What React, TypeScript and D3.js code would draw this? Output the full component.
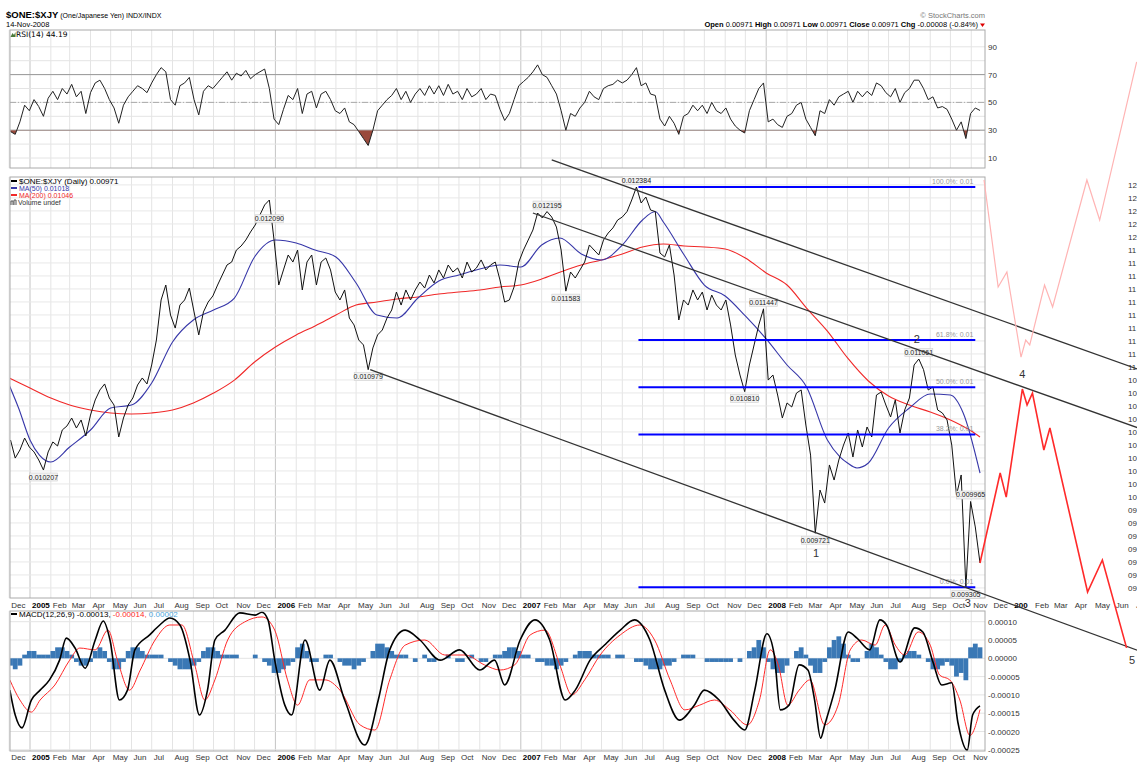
import React from 'react';
import * as d3 from 'd3';

const W = 1137;
const H = 763;
const FONT = 'Liberation Sans, Arial, sans-serif';
const parse = d3.timeParse('%Y-%m-%d');

// weekly samples (Fridays) starting here, used by close, RSI and MACD histogram
const weekStart = '2004-12-03';

// close, x 100000, one value per week
const closeWeekly: number[] = [
  1043.8, 1029.9, 1036.1, 1045.3, 1038.4, 1034.6, 1028.4, 1020.7, 1034.6, 1042.3,
  1039.2, 1051.5, 1054.6, 1060.7, 1053.0, 1059.2, 1046.9, 1063.0, 1074.6, 1082.3,
  1086.9, 1076.1, 1070.7, 1046.1, 1060.7, 1070.7, 1076.1, 1086.1, 1091.5, 1086.9,
  1101.5, 1120.7, 1151.5, 1163.0, 1139.9, 1129.9, 1147.6, 1151.5, 1160.7, 1142.3,
  1124.6, 1142.3, 1149.9, 1154.6, 1163.0, 1170.7, 1178.4, 1180.7, 1189.9, 1193.0,
  1197.6, 1203.8, 1209.2, 1216.9, 1224.6, 1228.4, 1197.6, 1163.0, 1174.6, 1186.1,
  1180.7, 1189.9, 1159.2, 1180.7, 1186.1, 1163.0, 1180.7, 1183.8, 1174.6, 1157.6,
  1151.5, 1159.2, 1137.6, 1132.3, 1120.7, 1116.9, 1097.9, 1114.6, 1124.6, 1128.4,
  1137.6, 1143.8, 1157.6, 1147.6, 1159.2, 1151.5, 1159.2, 1165.3, 1160.7, 1170.7,
  1164.6, 1174.6, 1168.4, 1178.4, 1173.0, 1176.1, 1168.4, 1180.7, 1173.0, 1176.1,
  1182.3, 1174.6, 1178.4, 1180.7, 1166.9, 1149.9, 1151.5, 1161.5, 1180.7, 1189.9,
  1197.6, 1205.3, 1218.4, 1214.6, 1219.5, 1215.3, 1207.6, 1189.9, 1158.3, 1173.0,
  1168.4, 1174.6, 1180.7, 1193.8, 1189.9, 1186.1, 1197.6, 1203.0, 1206.9, 1213.0,
  1215.3, 1219.5, 1228.4, 1238.4, 1226.1, 1230.7, 1220.7, 1219.5, 1187.6, 1184.6,
  1193.8, 1170.7, 1136.1, 1151.5, 1147.6, 1159.2, 1151.5, 1157.6, 1143.8, 1155.3,
  1147.6, 1143.8, 1151.5, 1132.3, 1109.2, 1093.8, 1081.0, 1101.5, 1116.9, 1132.3,
  1144.7, 1089.9, 1093.8, 1078.4, 1060.7, 1072.3, 1069.2, 1079.9, 1082.3, 1055.3,
  1032.2, 972.1, 1005.3, 995.3, 1024.6, 1013.0, 1028.4, 1039.9, 1049.2, 1030.7,
  1051.5, 1038.4, 1053.8, 1046.1, 1078.4, 1080.7, 1070.7, 1061.5, 1074.6, 1049.2,
  1066.9, 1076.1, 1101.5, 1106.1, 1097.9, 1082.3, 1084.6, 1066.9, 1064.6, 1059.2,
  1039.9, 1001.5, 1016.9, 930.5, 996.5, 976.9, 949.2,
];

// RSI(14), one value per week
const rsiWeekly: number[] = [
  29, 27, 36, 48, 44, 52, 47, 40, 53, 58,
  52, 60, 56, 63, 54, 58, 42, 57, 64, 66,
  60, 52, 46, 35, 48, 54, 58, 62, 60, 57,
  64, 70, 75, 72, 52, 48, 62, 64, 68, 52,
  41, 58, 62, 60, 64, 68, 72, 66, 71, 69,
  73, 67, 70, 72, 74, 60, 38, 34, 45, 55,
  52, 60, 42, 56, 58, 46, 56, 58, 52, 44,
  42, 46, 36, 34, 29, 24, 19, 30, 44, 48,
  52, 55, 60, 52, 58, 50, 56, 60, 55, 62,
  56, 62, 55, 63, 56, 58, 52, 60, 54, 56,
  60, 52, 56, 55, 45, 37, 42, 52, 62, 65,
  68, 72, 77, 70, 68, 62, 56, 44, 30, 42,
  40, 46, 50, 58, 54, 52, 60, 62, 63, 66,
  64, 66, 70, 75, 62, 64, 56, 55, 38, 33,
  40, 35, 27, 40, 42, 48, 44, 48, 42, 50,
  44, 42, 46, 38, 33, 30, 28, 44, 52, 60,
  64, 36, 38, 34, 32, 40, 42, 48, 50, 38,
  32, 26, 44, 42, 52, 48, 54, 56, 58, 50,
  58, 54, 58, 55, 64, 62, 57, 54, 60, 50,
  57, 60, 66, 66, 60, 52, 54, 46, 47, 45,
  38, 30, 36, 24, 42, 46, 44.19,
];

// MACD histogram, one bar per week, in units of 0.00001
const macdHist: number[] = [
  -2, -3, -2, 1, 2, 2, 1, 1, 1, 2, 3, 3, 2, 1, -1, -2, -2, -1, 2, 3, 2, -1, -3, -3, -1,
  2, 3, 3, 2, 1, 1, 1, 1, 0, -1, -2, -3, -3, -3, -2, -1, 2, 3, 3, 2, 1, 1, 1, 1, 0,
  0, 0, 1, 0, -1, -2, -4, -4, -3, -2, -1, 3, 4, 2, -1, -1, 0, 1, 1, 0, -1, -2, -2, -3, -2,
  -1, 0, 2, 4, 4, 3, 2, 1, 1, 1, 0, -1, 0, 1, -1, -1, 0, 0, 1, 0, -1, -1, 0, 1, 0,
  -1, -1, 0, 1, 1, 2, 3, 3, 2, 1, 1, 0, -1, -1, -2, -2, -3, -2, -1, 0, 1, 2, 2, 2, 1,
  1, 1, 1, 0, 1, 1, 0, 0, -1, -1, -2, -3, -3, -3, -2, -2, -1, 0, 1, 1, 1, 0, 0, -1,
  -1, -1, -1, -1, -1, 0, -1, 0, 2, 3, 5, 3, -1, -3, -4, -4, -2, 0, 2, 3, 1, -2, -4, -4, -1,
  3, 5, 6, 4, 1, -1, -1, 0, 2, 4, 3, 1, -1, -3, -3, -1, 1, 2, 2, 1, 0, -1, -3, -3, -2,
  -1, -2, -5, -4, -6, 3, 4, 3,
];

const ma50: [string, number][] = [
  ['2004-12-01', 0.010861], ['2004-12-15', 0.010684], ['2005-01-01', 0.010438], ['2005-01-15', 0.010322],
  ['2005-02-01', 0.010269], ['2005-03-01', 0.010384], ['2005-04-01', 0.010515], ['2005-05-01', 0.010684],
  ['2005-06-01', 0.010707], ['2005-07-01', 0.010876], ['2005-08-01', 0.011192], ['2005-09-01', 0.011361],
  ['2005-10-01', 0.011438], ['2005-11-01', 0.011530], ['2005-12-01', 0.011846], ['2006-01-01', 0.011976],
  ['2006-02-01', 0.011953], ['2006-03-01', 0.011899], ['2006-04-01', 0.011846], ['2006-05-01', 0.011646],
  ['2006-06-01', 0.011399], ['2006-07-01', 0.011376], ['2006-08-01', 0.011530], ['2006-09-01', 0.011661],
  ['2006-10-01', 0.011707], ['2006-11-01', 0.011753], ['2006-12-01', 0.011784], ['2007-01-01', 0.011769],
  ['2007-02-01', 0.011938], ['2007-02-28', 0.011992], ['2007-04-01', 0.011869], ['2007-05-01', 0.011823],
  ['2007-06-01', 0.011938], ['2007-07-01', 0.012130], ['2007-07-20', 0.012195], ['2007-08-01', 0.012115],
  ['2007-09-01', 0.011861], ['2007-10-01', 0.011630], ['2007-11-01', 0.011546], ['2007-12-01', 0.011392],
  ['2008-01-01', 0.011215], ['2008-02-01', 0.011015], ['2008-03-01', 0.010846], ['2008-04-01', 0.010438],
  ['2008-04-20', 0.010307], ['2008-05-01', 0.010261], ['2008-05-15', 0.010223], ['2008-06-01', 0.010261],
  ['2008-07-01', 0.010530], ['2008-08-01', 0.010684], ['2008-09-01', 0.010792], ['2008-10-01', 0.010784],
  ['2008-10-20', 0.010646], ['2008-11-14', 0.010184],
];

const ma200: [string, number][] = [
  ['2004-12-01', 0.010915], ['2005-01-01', 0.010838], ['2005-02-01', 0.010761], ['2005-03-01', 0.010707],
  ['2005-04-01', 0.010669], ['2005-05-01', 0.010646], ['2005-06-01', 0.010638], ['2005-07-01', 0.010646],
  ['2005-08-01', 0.010669], ['2005-09-01', 0.010723], ['2005-10-01', 0.010799], ['2005-11-01', 0.010899],
  ['2005-12-01', 0.011038], ['2006-01-01', 0.011153], ['2006-02-01', 0.011246], ['2006-03-01', 0.011315],
  ['2006-04-01', 0.011399], ['2006-05-01', 0.011476], ['2006-06-01', 0.011499], ['2006-07-01', 0.011523],
  ['2006-08-01', 0.011538], ['2006-09-01', 0.011561], ['2006-10-01', 0.011576], ['2006-11-01', 0.011592],
  ['2006-12-01', 0.011615], ['2007-01-01', 0.011630], ['2007-02-01', 0.011676], ['2007-03-01', 0.011730],
  ['2007-04-01', 0.011784], ['2007-05-01', 0.011823], ['2007-06-01', 0.011869], ['2007-07-01', 0.011923],
  ['2007-08-01', 0.011946], ['2007-09-01', 0.011930], ['2007-10-01', 0.011923], ['2007-11-01', 0.011907],
  ['2007-12-01', 0.011838], ['2008-01-01', 0.011723], ['2008-02-01', 0.011630], ['2008-03-01', 0.011453],
  ['2008-04-01', 0.011276], ['2008-05-01', 0.011069], ['2008-06-01', 0.010892], ['2008-07-01', 0.010776],
  ['2008-08-01', 0.010707], ['2008-09-01', 0.010653], ['2008-10-01', 0.010592], ['2008-11-01', 0.010507],
  ['2008-11-14', 0.010461],
];

const macd: [string, number][] = [
  ['2004-12-02', -0.000087], ['2004-12-10', -0.000155], ['2004-12-20', -0.000190], ['2005-01-03', -0.000114],
  ['2005-01-16', -0.000087], ['2005-01-30', -0.000059], ['2005-02-14', -0.000005], ['2005-02-24', 0.000055],
  ['2005-03-09', 0.000028], ['2005-03-24', -0.000027], ['2005-04-08', 0.000050], ['2005-04-20', 0.000102],
  ['2005-04-30', 0.000050], ['2005-05-14', -0.000114], ['2005-05-26', -0.000087], ['2005-06-06', 0.000023],
  ['2005-06-28', 0.000064], ['2005-07-13', 0.000091], ['2005-07-28', 0.000110], ['2005-08-12', 0.000091],
  ['2005-08-27', -0.000005], ['2005-09-10', -0.000155], ['2005-09-22', -0.000087], ['2005-10-03', 0.000050],
  ['2005-10-18', 0.000077], ['2005-11-09', 0.000124], ['2005-12-02', 0.000118], ['2005-12-12', 0.000126],
  ['2005-12-21', 0.000105], ['2005-12-31', -0.000005], ['2006-01-15', -0.000128], ['2006-01-25', -0.000155],
  ['2006-02-14', 0.000050], ['2006-03-08', -0.000087], ['2006-03-23', -0.000005], ['2006-04-14', -0.000114],
  ['2006-05-14', -0.000237], ['2006-06-03', -0.000114], ['2006-06-20', 0.000023], ['2006-07-13', 0.000077],
  ['2006-08-04', 0.000050], ['2006-09-03', -0.000005], ['2006-10-02', 0.000023], ['2006-11-01', -0.000032],
  ['2006-11-23', -0.000005], ['2006-12-08', -0.000073], ['2006-12-31', 0.000050], ['2007-01-22', 0.000105],
  ['2007-02-13', 0.000050], ['2007-03-08', -0.000114], ['2007-03-23', -0.000087], ['2007-04-14', -0.000005],
  ['2007-05-06', 0.000037], ['2007-05-29', 0.000077], ['2007-06-19', 0.000105], ['2007-07-12', 0.000050],
  ['2007-08-03', -0.000087], ['2007-08-25', -0.000169], ['2007-09-16', -0.000128], ['2007-10-01', -0.000087],
  ['2007-10-23', -0.000114], ['2007-11-14', -0.000169], ['2007-11-30', -0.000196], ['2007-12-15', -0.000087],
  ['2008-01-02', 0.000067], ['2008-01-13', 0.000009], ['2008-01-22', -0.000141], ['2008-02-04', -0.000128],
  ['2008-02-19', -0.000018], ['2008-03-03', -0.000032], ['2008-03-13', -0.000114], ['2008-03-22', -0.000218],
  ['2008-03-28', -0.000182], ['2008-04-12', -0.000087], ['2008-05-02', 0.000072], ['2008-05-15', 0.000055],
  ['2008-06-03', 0.000023], ['2008-06-18', 0.000105], ['2008-06-28', 0.000091], ['2008-07-18', -0.000010],
  ['2008-08-09', 0.000083], ['2008-08-21', 0.000072], ['2008-09-05', -0.000010], ['2008-09-18', -0.000073],
  ['2008-10-03', -0.000067], ['2008-10-12', -0.000174], ['2008-10-26', -0.000251], ['2008-11-03', -0.000155],
  ['2008-11-14', -0.000130],
];

const signal: [string, number][] = [
  ['2004-12-02', -0.000059], ['2004-12-17', -0.000114], ['2005-01-03', -0.000147], ['2005-01-16', -0.000114],
  ['2005-02-07', -0.000073], ['2005-03-01', -0.000005], ['2005-03-16', 0.000028], ['2005-04-08', 0.000023],
  ['2005-04-27', 0.000077], ['2005-05-11', -0.000005], ['2005-05-29', -0.000087], ['2005-06-14', -0.000032],
  ['2005-07-06', 0.000050], ['2005-07-28', 0.000091], ['2005-08-15', 0.000091], ['2005-09-03', -0.000018],
  ['2005-09-18', -0.000114], ['2005-10-03', -0.000059], ['2005-10-22', 0.000050], ['2005-11-16', 0.000099],
  ['2005-12-12', 0.000113], ['2005-12-31', 0.000077], ['2006-01-19', -0.000059], ['2006-02-03', -0.000128],
  ['2006-02-21', -0.000059], ['2006-03-16', -0.000059], ['2006-04-07', -0.000087], ['2006-05-07', -0.000182],
  ['2006-05-29', -0.000196], ['2006-06-20', -0.000059], ['2006-07-13', 0.000036], ['2006-08-11', 0.000050],
  ['2006-09-10', 0.000009], ['2006-10-10', 0.000009], ['2006-11-08', -0.000018], ['2006-12-01', -0.000032],
  ['2006-12-23', -0.000018], ['2007-01-15', 0.000064], ['2007-02-06', 0.000077], ['2007-02-28', -0.000018],
  ['2007-03-18', -0.000100], ['2007-04-06', -0.000059], ['2007-04-29', 0.000009], ['2007-05-29', 0.000064],
  ['2007-06-27', 0.000091], ['2007-07-19', 0.000050], ['2007-08-11', -0.000059], ['2007-09-02', -0.000141],
  ['2007-09-24', -0.000128], ['2007-10-16', -0.000114], ['2007-11-08', -0.000141], ['2007-12-04', -0.000182],
  ['2007-12-22', -0.000114], ['2008-01-07', 0.000023], ['2008-01-19', -0.000018], ['2008-02-02', -0.000128],
  ['2008-02-19', -0.000087], ['2008-03-06', -0.000059], ['2008-03-28', -0.000182], ['2008-04-17', -0.000128],
  ['2008-05-05', 0.000023], ['2008-05-22', 0.000050], ['2008-06-11', 0.000036], ['2008-06-26', 0.000091],
  ['2008-07-11', 0.000036], ['2008-07-25', 0.000009], ['2008-08-14', 0.000072], ['2008-09-01', 0.000036],
  ['2008-09-15', -0.000046], ['2008-09-30', -0.000059], ['2008-10-15', -0.000114], ['2008-10-30', -0.000211],
  ['2008-11-14', -0.000140],
];

const priceLabels: { d: string; v: number; up: boolean }[] = [
  { d: '2005-01-21', v: 0.010207, up: false },
  { d: '2005-12-23', v: 0.01209, up: true },
  { d: '2006-05-19', v: 0.010979, up: false },
  { d: '2007-02-09', v: 0.012195, up: true },
  { d: '2007-03-09', v: 0.011583, up: false },
  { d: '2007-06-22', v: 0.012384, up: true },
  { d: '2007-11-30', v: 0.01081, up: false },
  { d: '2007-12-28', v: 0.011447, up: true },
  { d: '2008-03-14', v: 0.009721, up: false },
  { d: '2008-08-15', v: 0.011061, up: true },
  { d: '2008-10-31', v: 0.009965, up: true },
  { d: '2008-10-24', v: 0.009305, up: false },
];

const fibHigh = 0.012384;
const fibLow = 0.009305;
const fibLevels = [1, 0.618, 0.5, 0.382, 0];
const fibNames = ['100.0%', '61.8%', '50.0%', '38.2%', '0.0%'];
const fibFrom = '2007-06-25';
const fibTo = '2008-11-07';

// trend channel: two anchors each, extended to the right
const channels: [string, number, string, number][] = [
  ['2007-02-16', 0.012592, '2008-09-30', 0.011499],
  ['2007-01-19', 0.012184, '2008-09-15', 0.011073],
  ['2006-05-22', 0.010979, '2008-10-23', 0.009305],
];
const channelEnd = '2009-07-25';

// hand-drawn wave forecasts
const redWave: [string, number][] = [
  ['2008-11-14', 0.009492], ['2008-12-14', 0.010184], ['2008-12-23', 0.009999], ['2009-01-16', 0.01083],
  ['2009-01-23', 0.010707], ['2009-01-31', 0.010799], ['2009-02-17', 0.010361], ['2009-02-26', 0.01053],
  ['2009-04-23', 0.009269], ['2009-05-15', 0.009515], ['2009-06-20', 0.008839],
];
const pinkWave: [string, number][] = [
  ['2008-11-20', 0.012438], ['2008-12-11', 0.011615], ['2008-12-24', 0.01173], ['2009-01-14', 0.011076],
  ['2009-01-21', 0.011207], ['2009-01-27', 0.011169], ['2009-02-18', 0.01163], ['2009-03-02', 0.011461],
  ['2009-04-22', 0.012438], ['2009-05-11', 0.01213], ['2009-07-05', 0.013346],
];
const waveNames: { t: string; d: string; v: number; dy: number }[] = [
  { t: '1', d: '2008-03-15', v: 0.009721, dy: 24 },
  { t: '2', d: '2008-08-12', v: 0.011061, dy: -16 },
  { t: '3', d: '2008-10-27', v: 0.009305, dy: 20 },
  { t: '4', d: '2009-01-16', v: 0.01083, dy: -11 },
  { t: '5', d: '2009-06-28', v: 0.008839, dy: 16 },
];

const rsiTicks = [10, 30, 50, 70, 90];
const macdTicks = [0.0001, 0.00005, 0, -0.00005, -0.0001, -0.00015, -0.0002, -0.00025];
const priceTicks = d3.range(93, 125).map((k) => k / 10000);

const L = 10;
const R = 985;
const rsiTop = 30;
const rsiBot = 168;
const mainTop = 177;
const mainBot = 598;
const macdTop = 611;
const macdBot = 751;

const x = d3.scaleTime().domain([new Date(2005, 0, 1), new Date(2008, 10, 14)]).range([30, 980]);
const yR = d3.scaleLinear().domain([10, 90]).range([158, 46.8]);
const yP = d3.scaleLinear().domain([fibLow, fibHigh]).range([587.3, 187]);
const yM = d3.scaleLinear().domain([-0.00025, 0.0001]).range([749.8, 621.7]);

const months = d3.timeMonth.range(new Date(2004, 11, 1), new Date(2008, 11, 1));
const extMonths = d3.timeMonth.range(new Date(2008, 11, 1), new Date(2009, 7, 1));
const fmtMon = d3.timeFormat('%b');
const w0 = parse(weekStart) as Date;
const weekDate = (i: number) => d3.timeDay.offset(w0, i * 7);

type Pt = [string, number];
type WPt = [Date, number];
const lineOf = (y: d3.ScaleLinear<number, number>, curve: d3.CurveFactory = d3.curveLinear) =>
  d3.line<Pt>().x((d) => x(parse(d[0]) as Date)).y((d) => y(d[1])).curve(curve);
const wLineOf = (y: d3.ScaleLinear<number, number>) =>
  d3.line<WPt>().x((d) => x(d[0])).y((d) => y(d[1]));

function MonthLabels({ y, ext }: { y: number; ext?: boolean }) {
  const list = ext ? extMonths : months;
  return (
    <g fontSize={8} fontFamily={FONT}>
      {list.map((m, i) => {
        const jan = m.getMonth() === 0;
        const label = jan ? (ext ? '200' : String(m.getFullYear())) : fmtMon(m);
        return (
          <text key={i} x={x(m) + 2} y={y} fontWeight={jan ? 'bold' : 'normal'} fill={jan ? '#000' : '#333'}>
            {label}
          </text>
        );
      })}
    </g>
  );
}

function VGrid({ top, bot }: { top: number; bot: number }) {
  return (
    <g>
      {months.map((m, i) => (
        <line key={i} x1={x(m)} x2={x(m)} y1={top} y2={bot}
          stroke={m.getMonth() === 0 ? '#c4c4c4' : '#e4e4e4'} strokeWidth={1} />
      ))}
    </g>
  );
}

export default function App() {
  const close: WPt[] = closeWeekly.map((v, i) => [weekDate(i), v / 100000]);
  const rsi: WPt[] = rsiWeekly.map((v, i) => [weekDate(i), v]);
  const rsiArea = d3.area<WPt>().x((d) => x(d[0])).y0(yR(30)).y1((d) => yR(d[1]));
  const pLine = lineOf(yP);
  const maLine = lineOf(yP, d3.curveMonotoneX);
  const mLine = lineOf(yM, d3.curveMonotoneX);

  const chanLines = channels.map(([d1, v1, d2, v2]) => {
    const t1 = (parse(d1) as Date).getTime();
    const t2 = (parse(d2) as Date).getTime();
    const te = (parse(channelEnd) as Date).getTime();
    const ve = v1 + ((v2 - v1) * (te - t1)) / (t2 - t1);
    return { x1: x(new Date(t1)), y1: yP(v1), x2: x(new Date(te)), y2: yP(ve) };
  });

  return (
    <svg width={W} height={H} style={{ position: 'absolute', left: 0, top: 0, background: '#fff' }}
      fontFamily={FONT}>
      <defs>
        <clipPath id="mainClip"><rect x={L} y={mainTop} width={R - L} height={mainBot - mainTop} /></clipPath>
        <clipPath id="rsiClip"><rect x={L} y={rsiTop} width={R - L} height={rsiBot - rsiTop} /></clipPath>
        <clipPath id="rsiLow"><rect x={L} y={yR(30)} width={R - L} height={rsiBot - yR(30)} /></clipPath>
        <clipPath id="macdClip"><rect x={L} y={macdTop} width={R - L} height={macdBot - macdTop} /></clipPath>
      </defs>
      <rect width={W} height={H} fill="#fff" />

      {/* header */}
      <text x={6} y={18}>
        <tspan fontSize={9.5} fontWeight="bold">$ONE:$XJY</tspan>
        <tspan fontSize={7}> (One/Japanese Yen) INDX/INDX</tspan>
      </text>
      <text x={6} y={27} fontSize={7.5}>14-Nov-2008</text>
      <text x={985} y={18} fontSize={7.5} fill="#777" textAnchor="end">© StockCharts.com</text>
      <text x={978} y={27} fontSize={7.5} textAnchor="end">
        <tspan fontWeight="bold">Open</tspan> 0.00971 <tspan fontWeight="bold"> High</tspan> 0.00971
        <tspan fontWeight="bold"> Low</tspan> 0.00971 <tspan fontWeight="bold"> Close</tspan> 0.00971
        <tspan fontWeight="bold"> Chg</tspan> -0.00008 (-0.84%)
      </text>
      <path d="M980,23.5 L985,23.5 L982.5,27 Z" fill="#d00" />

      {/* RSI panel */}
      <VGrid top={rsiTop} bot={rsiBot} />
      {d3.range(10, 100, 10).map((v) => (
        <line key={v} x1={L} x2={R} y1={yR(v)} y2={yR(v)} stroke="#e4e4e4" />
      ))}
      <line x1={L} x2={R} y1={yR(70)} y2={yR(70)} stroke="#999" />
      <line x1={L} x2={R} y1={yR(30)} y2={yR(30)} stroke="#999" />
      <line x1={L} x2={R} y1={yR(50)} y2={yR(50)} stroke="#aaa" strokeDasharray="6,2,1,2" />
      <g clipPath="url(#rsiClip)">
        <path d={rsiArea(rsi) || ''} fill="#9a4a3c" clipPath="url(#rsiLow)" />
        <path d={wLineOf(yR)(rsi) || ''} fill="none" stroke="#222" strokeWidth={1} />
      </g>
      <rect x={L} y={rsiTop} width={R - L} height={rsiBot - rsiTop} fill="none" stroke="#aaa" />
      {rsiTicks.map((v) => (
        <text key={v} x={R + 3} y={yR(v) + 3} fontSize={8} fill="#333">{v}</text>
      ))}
      <path d="M10.5,37 L12.5,33 L14,35 L15.5,32 L15.5,37 Z" fill="#4a7a3a" />
      <text x={16} y={37} fontSize={7.5} fontFamily="DejaVu Sans, sans-serif">RSI(14) 44.19</text>

      {/* main panel */}
      <VGrid top={mainTop} bot={mainBot} />
      {priceTicks.map((v) => (
        <line key={v} x1={L} x2={R} y1={yP(v)} y2={yP(v)} stroke="#e8e8e8" />
      ))}
      <g clipPath="url(#mainClip)">
        <path d={maLine(ma200) || ''} fill="none" stroke="#f02828" strokeWidth={1.1} />
        <path d={maLine(ma50) || ''} fill="none" stroke="#3636a8" strokeWidth={1.1} />
        <path d={wLineOf(yP)(close) || ''} fill="none" stroke="#111" strokeWidth={1} />
        {fibLevels.map((f, i) => {
          const v = fibLow + f * (fibHigh - fibLow);
          return (
            <g key={i}>
              <line x1={x(parse(fibFrom) as Date)} x2={x(parse(fibTo) as Date)} y1={yP(v)} y2={yP(v)}
                stroke="#0000ff" strokeWidth={2} />
              <text x={x(parse(fibTo) as Date) - 2} y={yP(v) - 3} fontSize={7} fill="#999" textAnchor="end">
                {fibNames[i]}: 0.01
              </text>
            </g>
          );
        })}
      </g>
      <rect x={L} y={mainTop} width={R - L} height={mainBot - mainTop} fill="none" stroke="#aaa" />
      {priceLabels.map((p, i) => {
        const cx = x(parse(p.d) as Date);
        const cy = yP(p.v) + (p.up ? -6.5 : 7);
        return (
          <g key={i}>
            <rect x={cx - 14} y={cy - 4} width={28} height={8} fill="#f2f2f2" stroke="#d0d0d0" strokeWidth={0.6} />
            <text x={cx} y={cy + 2.5} fontSize={7} textAnchor="middle" fill="#222">{p.v.toFixed(6)}</text>
          </g>
        );
      })}
      <line x1={11} x2={17} y1={181} y2={181} stroke="#000" strokeWidth={2} />
      <text x={19} y={184} fontSize={8}>$ONE:$XJY (Daily) 0.00971</text>
      <line x1={11} x2={17} y1={188} y2={188} stroke="#3636a8" strokeWidth={2} />
      <text x={19} y={191} fontSize={7} fill="#3636a8">MA(50) 0.01018</text>
      <line x1={11} x2={17} y1={195} y2={195} stroke="#f02828" strokeWidth={2} />
      <text x={19} y={198} fontSize={7} fill="#f02828">MA(200) 0.01046</text>
      <path d="M11,205 L11,201 L13,201 L13,205 M14,205 L14,200 L16,200 L16,205" fill="none" stroke="#555" />
      <text x={18} y={205} fontSize={7} fill="#333">Volume undef</text>

      {/* pasted copy of the price axis, only two digits show at the right edge */}
      {priceTicks.map((v) => (
        <text key={v} x={1128} y={yP(v) + 3} fontSize={8} fill="#333">{v.toFixed(5).slice(3, 5)}</text>
      ))}

      <MonthLabels y={608} />
      <MonthLabels y={608} ext />

      {/* MACD panel */}
      <VGrid top={macdTop} bot={macdBot} />
      {macdTicks.map((v) => (
        <line key={v} x1={L} x2={R} y1={yM(v)} y2={yM(v)} stroke="#e4e4e4" />
      ))}
      <g clipPath="url(#macdClip)">
        {macdHist.map((h, i) => {
          const v = h * 0.00001;
          const cx = x(weekDate(i));
          return (
            <rect key={i} x={cx - 2.4} width={4.8} y={Math.min(yM(v), yM(0))}
              height={Math.abs(yM(v) - yM(0))} fill="#3a78b5" />
          );
        })}
        <path d={mLine(signal) || ''} fill="none" stroke="#ff2a2a" strokeWidth={1} />
        <path d={mLine(macd) || ''} fill="none" stroke="#000" strokeWidth={1.6} />
      </g>
      <rect x={L} y={macdTop} width={R - L} height={macdBot - macdTop} fill="none" stroke="#aaa" />
      {macdTicks.map((v) => (
        <text key={v} x={R + 3} y={yM(v) + 3} fontSize={8} fill="#333">{v.toFixed(5)}</text>
      ))}
      <line x1={11} x2={17} y1={614} y2={614} stroke="#000" strokeWidth={2} />
      <text x={19} y={617} fontSize={8}>
        MACD(12,26,9) -0.00013, <tspan fill="#ff2a2a">-0.00014, </tspan><tspan fill="#4da6dc">0.00002</tspan>
      </text>
      <MonthLabels y={760} />

      {/* annotations */}
      {chanLines.map((c, i) => (
        <line key={i} x1={c.x1} y1={c.y1} x2={c.x2} y2={c.y2} stroke="#333" strokeWidth={1.3} />
      ))}
      <path d={pLine(pinkWave) || ''} fill="none" stroke="#ffb4b4" strokeWidth={1.2} />
      <path d={pLine(redWave) || ''} fill="none" stroke="#ff2a2a" strokeWidth={1.6} />
      {waveNames.map((w, i) => (
        <text key={i} x={x(parse(w.d) as Date)} y={yP(w.v) + w.dy} fontSize={11} fill="#333"
          textAnchor="middle">{w.t}</text>
      ))}
    </svg>
  );
}
